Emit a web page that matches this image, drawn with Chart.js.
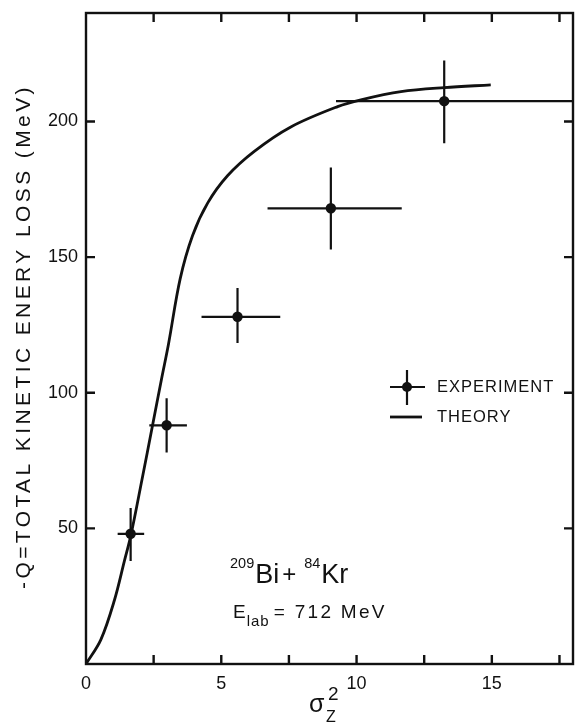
<!DOCTYPE html>
<html>
<head>
<meta charset="utf-8">
<script src="https://cdn.jsdelivr.net/npm/chart.js@4.4.0/dist/chart.umd.min.js"></script>
<style>
  html, body { margin: 0; padding: 0; background: #fff; }
  #wrap { width: 579px; height: 723px; position: relative; }
</style>
</head>
<body>
<div id="wrap"><canvas id="chart"></canvas></div>
<script>
// ---- data ----
const theoryX = [0, 0.55, 1.05, 1.42, 1.66, 2.07, 2.46, 2.79, 3.05, 3.48, 3.94, 4.5, 5.23, 6.22, 7.57, 9.3, 10.16, 11.64, 13.24, 14.96];
const theoryY = [0, 9, 23.5, 38, 47.5, 68, 88, 105, 118, 142, 158, 170, 180, 189, 198, 205.5, 208, 211, 212.5, 213.5];

const expX     = [1.65, 2.98, 5.6, 9.05, 13.24];
const expY     = [48, 88, 128, 168, 207.5];
const expXLow  = [1.17, 2.34, 4.27, 6.71, 9.24];
const expXHigh = [2.15, 3.73, 7.18, 11.67, 18];
const expYLow  = [38, 78, 118.3, 152.8, 192];
const expYHigh = [57.5, 98, 138.6, 183, 222.5];

const xTicks      = [0, 2.5, 5, 7.5, 10, 12.5, 15, 17.5];
const xTickLabels = ["0", "", "5", "", "10", "", "15", ""];
const yTicks      = [50, 100, 150, 200];
const yTickLabels = ["50", "100", "150", "200"];

const INK  = "#111";
const FONT = "'Liberation Sans', Arial, sans-serif";
const font = (size) => size + "px " + FONT;

// draw a row of text pieces (for super/subscripts), left aligned on a baseline
function drawRuns(ctx, x, y, runs) {
  runs.forEach(r => {
    ctx.font = font(r.size);
    ctx.letterSpacing = (r.ls || 0) + "px";
    ctx.fillText(r.t, x, y + (r.dy || 0));
    x += ctx.measureText(r.t).width + (r.gap || 0);
  });
  ctx.letterSpacing = "0px";
}

// ─── error bars under the points ────────────────────────────
const errorBars = {
  id: "errorBars",
  beforeDatasetsDraw(chart) {
    const { ctx, scales: { x, y } } = chart;
    ctx.save();
    ctx.strokeStyle = INK;
    ctx.lineWidth = 2.2;
    ctx.beginPath();
    expX.forEach((v, i) => {
      const px = x.getPixelForValue(v);
      const py = y.getPixelForValue(expY[i]);
      ctx.moveTo(x.getPixelForValue(expXLow[i]), py);
      ctx.lineTo(x.getPixelForValue(expXHigh[i]), py);
      ctx.moveTo(px, y.getPixelForValue(expYLow[i]));
      ctx.lineTo(px, y.getPixelForValue(expYHigh[i]));
    });
    ctx.stroke();
    ctx.restore();
  }
};

// ─── frame, inward ticks, labels, legend, notes ─────────────
const decorations = {
  id: "decorations",
  afterDraw(chart) {
    const { ctx, chartArea: a, scales: { x, y } } = chart;
    ctx.save();
    ctx.strokeStyle = INK;
    ctx.fillStyle = INK;
    ctx.lineWidth = 2.4;
    ctx.strokeRect(a.left, a.top, a.right - a.left, a.bottom - a.top);

    const TL = 9;
    ctx.beginPath();
    xTicks.forEach(v => {
      if (v === 0) return;
      const px = x.getPixelForValue(v);
      ctx.moveTo(px, a.bottom); ctx.lineTo(px, a.bottom - TL);
      ctx.moveTo(px, a.top);    ctx.lineTo(px, a.top + TL);
    });
    yTicks.forEach(v => {
      const py = y.getPixelForValue(v);
      ctx.moveTo(a.left, py);  ctx.lineTo(a.left + TL, py);
      ctx.moveTo(a.right, py); ctx.lineTo(a.right - TL, py);
    });
    ctx.stroke();

    // tick labels
    ctx.font = font(18);
    ctx.textBaseline = "middle";
    ctx.textAlign = "center";
    xTicks.forEach((v, i) => {
      if (xTickLabels[i]) ctx.fillText(xTickLabels[i], x.getPixelForValue(v), a.bottom + 20);
    });
    ctx.textAlign = "right";
    yTicks.forEach((v, i) => ctx.fillText(yTickLabels[i], a.left - 8, y.getPixelForValue(v)));

    // y title
    ctx.save();
    ctx.translate(24, (a.top + a.bottom) / 2 - 2);
    ctx.rotate(-Math.PI / 2);
    ctx.textAlign = "center";
    ctx.font = font(21);
    ctx.letterSpacing = "3.4px";
    ctx.fillText("-Q=TOTAL KINETIC ENERY LOSS (MeV)", 0, 0);
    ctx.restore();

    // x title: sigma_Z^2
    ctx.textAlign = "left";
    ctx.textBaseline = "alphabetic";
    ctx.font = font(25);
    ctx.fillText("σ", 309, 712);
    ctx.font = font(16);
    ctx.fillText("Z", 326, 722);
    ctx.font = font(19);
    ctx.fillText("2", 328, 700);

    // reaction note
    drawRuns(ctx, 230, 583, [
      { t: "209", size: 14.5, dy: -15, gap: 1 },
      { t: "Bi", size: 27, gap: 3 },
      { t: "+", size: 24, dy: -1, gap: 8 },
      { t: "84", size: 14.5, dy: -15, gap: 1 },
      { t: "Kr", size: 27 }
    ]);
    drawRuns(ctx, 233, 618, [
      { t: "E", size: 19, gap: 1 },
      { t: "lab", size: 15, dy: 8, ls: 1, gap: 4 },
      { t: "= 712 MeV", size: 19, ls: 2.3 }
    ]);

    // legend
    ctx.lineWidth = 2.2;
    ctx.beginPath();
    ctx.moveTo(390, 387); ctx.lineTo(425, 387);
    ctx.moveTo(407, 370); ctx.lineTo(407, 405);
    ctx.stroke();
    ctx.beginPath();
    ctx.arc(407, 387, 5, 0, Math.PI * 2);
    ctx.fill();
    ctx.lineWidth = 2.8;
    ctx.beginPath();
    ctx.moveTo(390, 417); ctx.lineTo(422, 417);
    ctx.stroke();
    ctx.font = font(16.5);
    ctx.textBaseline = "middle";
    ctx.letterSpacing = "1px";
    ctx.fillText("EXPERIMENT", 437, 387);
    ctx.fillText("THEORY", 437, 417);
    ctx.restore();
  }
};

new Chart(document.getElementById("chart"), {
  type: "scatter",
  data: {
    datasets: [
      {
        label: "Theory",
        data: theoryX.map((v, i) => ({ x: v, y: theoryY[i] })),
        showLine: true,
        tension: 0.35,
        borderColor: INK,
        borderWidth: 2.8,
        pointRadius: 0
      },
      {
        label: "Experiment",
        data: expX.map((v, i) => ({ x: v, y: expY[i] })),
        pointRadius: 5.2,
        backgroundColor: INK,
        borderWidth: 0
      }
    ]
  },
  options: {
    responsive: true,
    maintainAspectRatio: false,
    devicePixelRatio: 1,
    animation: false,
    layout: { padding: { left: 86, right: 6, top: 13, bottom: 59 } },
    plugins: { legend: { display: false }, tooltip: { enabled: false } },
    scales: {
      x: { type: "linear", min: 0, max: 18, display: false },
      y: { type: "linear", min: 0, max: 240, display: false }
    }
  },
  plugins: [errorBars, decorations]
});
</script>
</body>
</html>
